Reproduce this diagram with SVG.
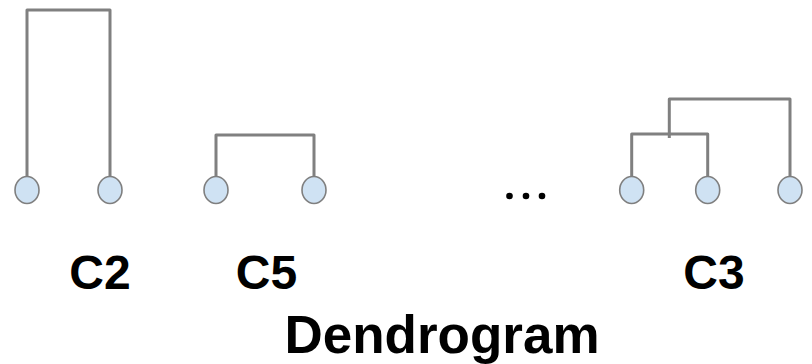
<svg xmlns="http://www.w3.org/2000/svg" width="812" height="364" viewBox="0 0 812 364">
<style>
.link{fill:none;stroke:#808080;stroke-width:3;stroke-linejoin:round}
.leaf{fill:#cfe2f3;stroke:#7f7f7f;stroke-width:1.6}
.lbl{font-family:"Liberation Sans",Arial,sans-serif;font-weight:bold;font-size:48px;fill:#000;text-anchor:middle}
.title{font-family:"Liberation Sans",Arial,sans-serif;font-weight:bold;font-size:53px;fill:#000;text-anchor:middle}
</style>
<rect width="812" height="364" fill="#fff"/>
<g id="connectors">
<polyline class="link" points="27,176 27,10 110,10 110,176"/>
<polyline class="link" points="216,176 216,135 314,135 314,176"/>
<polyline class="link" points="631.7,176 631.7,134 707.7,134 707.7,176"/>
<polyline class="link" points="669.3,138 669.3,99 790,99 790,176"/>
</g>
<g id="c2-leaf1"><ellipse class="leaf" cx="27" cy="190" rx="12" ry="13.5"/></g>
<g id="c2-leaf2"><ellipse class="leaf" cx="110" cy="190" rx="12" ry="13.5"/></g>
<g id="c5-leaf1"><ellipse class="leaf" cx="216" cy="190" rx="12" ry="13.5"/></g>
<g id="c5-leaf2"><ellipse class="leaf" cx="314" cy="190" rx="12" ry="13.5"/></g>
<g id="c3-leaf1"><ellipse class="leaf" cx="631.7" cy="190" rx="12" ry="13.5"/></g>
<g id="c3-leaf2"><ellipse class="leaf" cx="707.7" cy="190" rx="12" ry="13.5"/></g>
<g id="c3-leaf3"><ellipse class="leaf" cx="790" cy="190" rx="12" ry="13.5"/></g>
<g id="ellipsis">
<circle cx="509.5" cy="196" r="3.3" fill="#000"/>
<circle cx="526" cy="196" r="3.3" fill="#000"/>
<circle cx="542" cy="196" r="3.3" fill="#000"/>
</g>
<g id="labels">
<text class="lbl" x="100" y="289">C2</text>
<text class="lbl" x="266.5" y="289">C5</text>
<text class="lbl" x="714" y="289">C3</text>
<text class="title" x="442" y="353">Dendrogram</text>
</g>
</svg>
